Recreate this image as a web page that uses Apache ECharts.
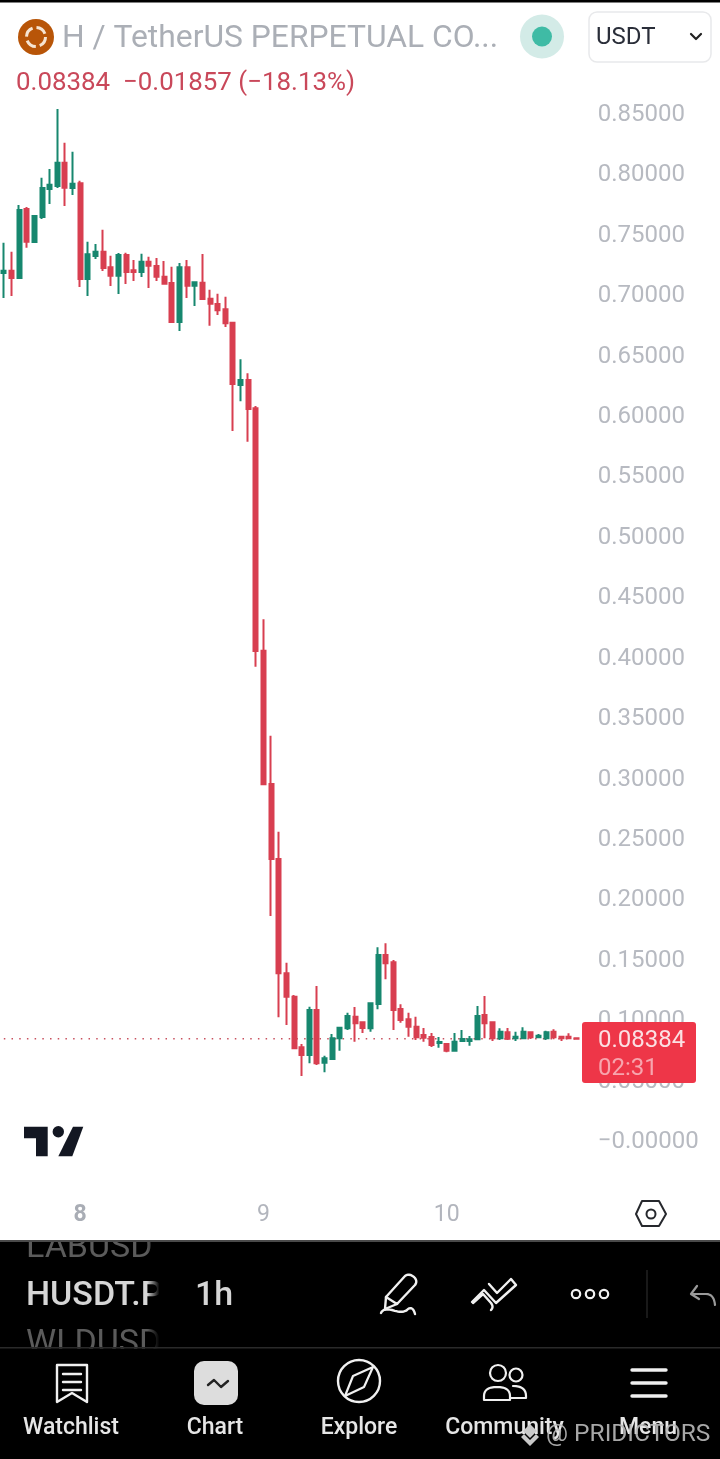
<!DOCTYPE html>
<html><head><meta charset="utf-8">
<style>html,body{margin:0;padding:0;background:#fff}#c{width:720px;height:1459px}</style>
<script src="https://cdn.jsdelivr.net/npm/echarts@6/dist/echarts.min.js"></script>
</head><body><div id="c"></div>
<script>
const opens = [.7176,.7195,.7135,.7706,.7433,.7639,.7871,.7896,.8089,.7879,
.7918,.7126,.7317,.7352,.7223,.7154,.7325,.7198,.7184,.7269,
.7234,.7145,.7093,.6770,.7223,.7071,.7096,.6963,.6919,.6875,
.6765,.6249,.6290,.6056,.4050,.2946,.2326,.1380,.1186,.0767,
.0704,.1076,.0640,.0670,.0842,.0925,.1021,.0974,.0925,.1126,
.1531,.1471,.1084,.0999,.0938,.0869,.0853,.0803,.0795,.0739,
.0819,.0819,.0833,.1035,.0974,.0842,.0891,.0842,.0842,.0891,
.0850,.0842,.0896,.0855,.0855,.0842];
const closes = [.7195,.7135,.7697,.7435,.7648,.7879,.7907,.8089,.7882,.7915,
.7126,.7331,.7352,.7217,.7154,.7325,.7184,.7184,.7269,.7236,
.7145,.7087,.6770,.7223,.7071,.7099,.6961,.6922,.6867,.6760,
.6257,.6290,.6050,.4047,.2944,.2326,.1380,.1186,.0759,.0704,
.1076,.0635,.0676,.0842,.0929,.1026,.0966,.0927,.1131,.1531,
.1462,.1076,.0993,.0938,.0850,.0847,.0786,.0811,.0739,.0814,
.0836,.0833,.1026,.0966,.0842,.0896,.0838,.0855,.0896,.0850,
.0863,.0891,.0850,.0842,.0842,.08384];
const lows = [.6969,.6986,.7135,.7385,.7433,.7623,.7747,.7879,.7731,.7822,
.7060,.6986,.7292,.7193,.7068,.7002,.7085,.7110,.7143,.7052,
.7110,.7085,.6765,.6696,.6969,.6903,.6961,.6740,.6828,.6729,
.5868,.6114,.5780,.3917,.2938,.1854,.1016,.0952,.0759,.0530,
.0635,.0621,.0560,.0668,.0739,.0910,.0814,.0886,.0896,.1082,
.1330,.0910,.0971,.0855,.0828,.0814,.0770,.0764,.0726,.0737,
.0814,.0780,.0828,.0842,.0819,.0828,.0828,.0819,.0836,.0836,
.0842,.0828,.0833,.0819,.0836,.0836];
const highs = [.7427,.7352,.7739,.7722,.7656,.7965,.8037,.8533,.8254,.8180,
.7940,.7435,.7416,.7534,.7319,.7342,.7344,.7284,.7336,.7311,
.7300,.7275,.7228,.7259,.7284,.7104,.7333,.7038,.7005,.6980,
.6770,.6462,.6346,.6075,.4310,.3346,.2552,.1467,.1200,.0795,
.1103,.1275,.0698,.0877,.0935,.1054,.1101,.0979,.1140,.1595,
.1628,.1490,.1123,.1054,.1021,.0927,.0886,.0853,.0800,.0886,
.0910,.0861,.1109,.1192,.0979,.0925,.0927,.0896,.0933,.0896,
.0877,.0905,.0916,.0863,.0883,.0850];
const lastPrice = 0.08384;
const firstDay = 7, firstHour = 14;
const categories = opens.map((_, i) => {
  const t = firstHour + i;
  return { day: firstDay + Math.floor(t / 24), hour: t % 24 };
}).map(d => d.hour === 0 ? String(d.day) : d.day + ' ' + d.hour + ':00');
const candles = opens.map((o, i) => [o, closes[i], lows[i], highs[i]]);
const lastPriceLine = opens.map(() => lastPrice);

const UP = '#17876f', DOWN = '#d83f50', FONT = 'Roboto, sans-serif';
const txt = (x, y, text, size, fill, extra) => ({ type: 'text', x, y, z: (extra && extra.z) || 20, silent: true,
  style: Object.assign({ text, font: (extra && extra.weight || 400) + ' ' + size + 'px ' + FONT, fill,
    textVerticalAlign: 'middle', textAlign: extra && extra.align || 'left' }, extra && extra.style) });
// small outline helper for the app chrome icons: M L H V Q Z turned into polylines / polygons
const path = (d, stroke, width, fill, z) => {
  const toks = d.match(/[MLHVQZ]|-?[\d.]+/g), out = []; let pts = [], i = 0, cmd = '', x = 0, y = 0;
  const flush = closed => { if (pts.length > 1) out.push({ type: closed ? 'polygon' : 'polyline', z: z || 20, silent: true,
      shape: { points: pts }, style: { stroke: stroke || null, lineWidth: width || 0, fill: fill || null, lineJoin: 'round', lineCap: 'round' } }); pts = []; };
  while (i < toks.length) {
    if (/[A-Z]/.test(toks[i])) { cmd = toks[i++]; if (cmd === 'Z') { flush(true); continue; } }
    if (cmd === 'M') { flush(false); x = +toks[i++]; y = +toks[i++]; pts.push([x, y]); }
    else if (cmd === 'L') { x = +toks[i++]; y = +toks[i++]; pts.push([x, y]); }
    else if (cmd === 'H') { x = +toks[i++]; pts.push([x, y]); }
    else if (cmd === 'V') { y = +toks[i++]; pts.push([x, y]); }
    else if (cmd === 'Q') { const cx = +toks[i++], cy = +toks[i++], ex = +toks[i++], ey = +toks[i++];
      for (let k = 1; k <= 8; k++) { const t = k / 8, u = 1 - t; pts.push([u*u*x + 2*u*t*cx + t*t*ex, u*u*y + 2*u*t*cy + t*t*ey]); }
      x = ex; y = ey; }
  }
  flush(false);
  return out;
};
const rect = (x, y, w, h, fill, r, z, stroke) => ({ type: 'rect', z: z || 10, silent: true,
  shape: { x, y, width: w, height: h, r: r || 0 }, style: { fill, stroke: stroke || null, lineWidth: stroke ? 1.5 : 0 } });
const circ = (cx, cy, r, fill, stroke, lw, z) => ({ type: 'circle', z: z || 20, silent: true,
  shape: { cx, cy, r }, style: { fill: fill || null, stroke: stroke || null, lineWidth: lw || 0 } });
const W = '#f0f0f0';

const graphics = [
  rect(0, 0, 720, 2.5, '#000'),
  // logo + header
  circ(36, 37, 18, '#b85508'),
  { type: 'circle', z: 21, silent: true, shape: { cx: 36, cy: 37, r: 9.5 }, style: { fill: null, stroke: '#f6e4d2', lineWidth: 3, lineDash: [11, 4] } },
  txt(62, 39, 'H / TetherUS PERPETUAL CO...', 31.8, '#abafb6'),
  circ(542, 36.5, 22, '#d3ebe7'),
  circ(542, 36.5, 10, '#3fbba5', null, 0, 21),
  rect(589, 12, 122, 50, '#fff', 8, 10, '#e8e9eb'),
  txt(596, 38, 'USDT', 24, '#2a2e39'),
  path('M691 34 L696 39 L701 34', '#222', 2.2),
  txt(16, 84, '0.08384  \u22120.01857 (\u221218.13%)', 25.9, '#c9485a'),
  // TV logo
  path('M24 1126.7 H47.7 V1156.3 H36 V1138.3 H24 Z', null, 0, '#131722'),
  circ(58.3, 1131.7, 5.7, '#131722'),
  path('M73 1126.7 H83.3 L72.3 1156.3 H58.3 Z', null, 0, '#131722'),
  // settings hexagon
  path('M642 1201 H659 L666 1214 L659 1226 H642 L636 1214 Z', '#26282d', 2),
  circ(651, 1214, 4.5, null, '#26282d', 2),
  // price box
  rect(582, 1022, 114, 61, '#ee3648', 3, 15),
  txt(598, 1041, '0.08384', 24, '#fbe0e3'),
  txt(598, 1069, '02:31', 24, '#f7a5ae'),
  // bottom panel
  rect(0, 1241, 720, 218, '#000', 0, 10),
  txt(26, 1248, 'LABUSDT.P', 34, '#5b5b5b'),
  txt(26, 1296, 'HUSDT.P', 34, '#d6d6d6', { weight: 500 }),
  txt(26, 1344, 'WLDUSDT.P', 34, '#5b5b5b'),
  { type: 'rect', z: 22, silent: true, shape: { x: 147, y: 1228, width: 250, height: 124 },
    style: { fill: { type: 'linear', x: 0, y: 0, x2: 1, y2: 0, colorStops: [{ offset: 0, color: 'rgba(0,0,0,0)' }, { offset: 0.05, color: '#000' }, { offset: 1, color: '#000' }] } } },
  rect(0, 1348.5, 720, 30, '#000', 0, 23),
  rect(0, 1225, 400, 15, '#fff', 0, 23),
  rect(0, 1240, 720, 2, '#4a4a4a', 0, 24),
  rect(0, 1347, 720, 1.5, '#2a2a2a', 0, 24),
  txt(195, 1296, '1h', 34, '#d6d6d6', { weight: 500, z: 25 }),
  // pencil
  ...[
  path('M397 1304 L386 1297 L405 1276 Q409 1273 414 1277 Q418 1281 415 1285 Z', W, 2.4),
  path('M386 1297 L385 1309 L397 1304', W, 2.4),
  path('M381 1313 Q383 1308 392 1310 Q404 1314 408 1309 Q413 1306 415 1314', W, 2.4),
  // lines icon
  path('M473 1303 L483 1294 L491 1303 Q494 1307 491 1310', W, 2.4),
  path('M472 1302 L484 1290 L496 1303 L516 1285 L511 1279 L497 1293 L489 1284', W, 2.4),
  ].map(a => a.map(e => Object.assign(e, { z: 25 }))),
  circ(576, 1294, 4.2, null, W, 2.2, 25), circ(590, 1294, 4.2, null, W, 2.2, 25), circ(604, 1294, 4.2, null, W, 2.2, 25),
  rect(646.5, 1270, 1, 48, '#333', 0, 25),
  path('M697 1286 L691 1294 L699 1299', '#9a9a9a', 2.2, null, 25),
  path('M692 1294 H706 Q714 1294 715 1305', '#9a9a9a', 2.2, null, 25),
  // bottom nav
  path('M57 1365 H87 V1402 L72 1393 L57 1402 Z', W, 2.4, null, 25),
  path('M63 1374 H81', W, 2.4, null, 25), path('M63 1382 H81', W, 2.4, null, 25), path('M63 1390 H81', W, 2.4, null, 25),
  rect(194, 1361, 44, 44, '#dddddd', 10, 25),
  path('M208 1385 L214 1380 L221 1387 L228 1381', '#222', 2.4, null, 26),
  circ(359, 1381, 21, null, W, 2.4, 25),
  path('M373 1367 L364 1387 L345 1396 L353 1376 Z', W, 2.2, null, 25),
  circ(498, 1373, 8, null, W, 2.2, 25),
  circ(516, 1375, 6.5, null, W, 2.2, 25),
  path('M484 1400 V1396 Q484 1387 497 1387 Q510 1387 510 1396 V1400 Z', W, 2.2, null, 25),
  path('M513 1386 Q526 1386 526 1396 V1398 H511', W, 2.2, null, 25),
  path('M632 1370 H666', W, 3.4, null, 25), path('M632 1383 H666', W, 3.4, null, 25), path('M632 1396 H666', W, 3.4, null, 25),
  txt(71, 1428, 'Watchlist', 23, '#e6e6e6', { weight: 500, align: 'center', z: 25 }),
  txt(215, 1428, 'Chart', 23, '#e6e6e6', { weight: 500, align: 'center', z: 25 }),
  txt(359, 1428, 'Explore', 23, '#e6e6e6', { weight: 500, align: 'center', z: 25 }),
  txt(504.5, 1428, 'Community', 23, '#e6e6e6', { weight: 500, align: 'center', z: 25 }),
  txt(648, 1428, 'Menu', 23, '#e6e6e6', { weight: 500, align: 'center', z: 25 }),
  // watermark
  path('M530 1424 L537 1431 L530 1438 L523 1431 Z', null, 0, '#c9c9c9', 30),
  path('M530 1440 L536 1434 L539 1437 L530 1446 L521 1437 L524 1434 Z', null, 0, '#c9c9c9', 30),
  txt(546, 1435, '@ PRIDICTORS', 24.5, '#b9b9b9', { style: { opacity: .9 }, z: 30 })
].flat(2);

const chart = echarts.init(document.getElementById('c'), null, { renderer: 'canvas', width: 720, height: 1459 });
chart.setOption({
  animation: false,
  backgroundColor: '#fff',
  grid: { left: -2.6, top: 52.6, width: 583, height: 1147.8, containLabel: false },
  xAxis: {
    type: 'category', data: categories, boundaryGap: true,
    axisLine: { show: false }, axisTick: { show: false }, splitLine: { show: false },
    axisLabel: { interval: (i, v) => !v.includes(':'), margin: 3, fontFamily: FONT, fontSize: 23, color: '#b2b5bd',
      formatter: v => v === '8' ? '{b|8}' : v, rich: { b: { fontFamily: FONT, fontSize: 23, fontWeight: 700, color: '#a9adb5' } } }
  },
  yAxis: {
    type: 'value', position: 'right', min: -0.05, max: 0.9, interval: 0.05,
    axisLine: { show: false }, axisTick: { show: false }, splitLine: { show: false },
    axisLabel: { inside: false, margin: 17.4, align: 'left', verticalAlign: 'top', lineHeight: 4, fontFamily: FONT, fontSize: 24, color: '#b7bac1',
      formatter: v => { const r = Math.round(v * 100) / 100; if (r < 0 || r > 0.85) return ''; return r === 0 ? '\u22120.00000' : r.toFixed(5); } }
  },
  series: [{
    type: 'line', data: lastPriceLine, showSymbol: false, silent: true, z: 1,
    lineStyle: { color: '#c8505e', width: 1.5, type: [1.5, 6.2] }
  }, {
    type: 'candlestick', data: candles, barWidth: 4.5, clip: false, z: 2,
    itemStyle: { color: UP, color0: DOWN, borderColor: UP, borderColor0: DOWN, borderWidth: 2 }
  }],
  graphic: { elements: graphics }
});
</script></body></html>
